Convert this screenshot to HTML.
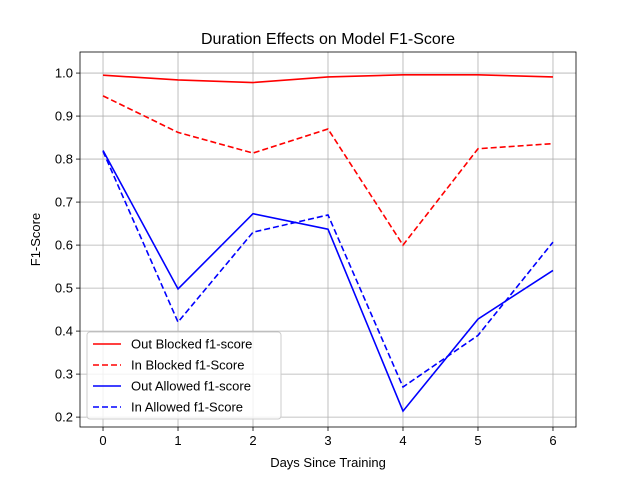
<!DOCTYPE html>
<html><head><meta charset="utf-8"><style>
body{margin:0;background:#fff;}
svg{font-family:"Liberation Sans","DejaVu Sans",sans-serif;}
</style></head><body>
<svg id="chart" width="640" height="480"></svg>
<script>
const days=[0,1,2,3,4,5,6];
const outBlocked=[0.995,0.984,0.978,0.991,0.996,0.996,0.991];
const inBlocked=[0.947,0.862,0.814,0.870,0.600,0.824,0.836];
const outAllowed=[0.820,0.498,0.673,0.637,0.214,0.428,0.541];
const inAllowed=[0.818,0.421,0.630,0.670,0.270,0.390,0.607];
const xTicks=[0,1,2,3,4,5,6];
const yTicks=[0.2,0.3,0.4,0.5,0.6,0.7,0.8,0.9,1.0];
const seriesNames=["Out Blocked f1-score","In Blocked f1-Score","Out Allowed f1-score","In Allowed f1-Score"];

const NS="http://www.w3.org/2000/svg";
const svg=document.getElementById('chart');
const L=80,R=576,T=52,B=427;
const xMin=-0.307,xMax=6.307,yMin=0.177,yMax=1.049;
const sx=v=>L+(v-xMin)/(xMax-xMin)*(R-L);
const sy=v=>B-(v-yMin)/(yMax-yMin)*(B-T);
function mk(tag,attrs,parent){const e=document.createElementNS(NS,tag);for(const k in attrs)e.setAttribute(k,attrs[k]);(parent||svg).appendChild(e);return e;}

const grid=mk('g',{});


xTicks.forEach(t=>{mk('line',{x1:sx(t),x2:sx(t),y1:T,y2:B,stroke:'#b0b0b0','stroke-width':0.8},grid);
 mk('line',{x1:sx(t),x2:sx(t),y1:B,y2:B+4,stroke:'#000','stroke-width':0.8},grid);
 const tx=mk('text',{x:sx(t),y:B+18,'text-anchor':'middle','font-size':13},grid);tx.textContent=t;
 
 });
yTicks.forEach(t=>{mk('line',{x1:L,x2:R,y1:sy(t),y2:sy(t),stroke:'#b0b0b0','stroke-width':0.8},grid);
 mk('line',{x1:L-4,x2:L,y1:sy(t),y2:sy(t),stroke:'#000','stroke-width':0.8},grid);
 const tx=mk('text',{x:L-7,y:sy(t)+4.5,'text-anchor':'end','font-size':13},grid);tx.textContent=t.toFixed(1);
 
 });

const styles=[{c:'#ff0000',d:''},{c:'#ff0000',d:'6,3'},{c:'#0000ff',d:''},{c:'#0000ff',d:'6,3'}];
[outBlocked,inBlocked,outAllowed,inAllowed].forEach((s,i)=>{
 const p=mk('polyline',{points:s.map((v,j)=>sx(days[j])+','+sy(v)).join(' '),fill:'none',stroke:styles[i].c,'stroke-width':1.6,'stroke-dasharray':styles[i].d});
 
 
});
const frame=mk('rect',{x:L,y:T,width:R-L,height:B-T,fill:'none',stroke:'#000','stroke-width':0.8});



const title=mk('text',{x:(L+R)/2,y:T-8,'text-anchor':'middle','font-size':16});title.textContent='Duration Effects on Model F1-Score';


const xl=mk('text',{x:(L+R)/2,y:467,'text-anchor':'middle','font-size':13});xl.textContent='Days Since Training';


const yl=mk('text',{x:0,y:0,'text-anchor':'middle','font-size':13,transform:'translate(40,'+((T+B)/2)+') rotate(-90)'});yl.textContent='F1-Score';



const lg=mk('g',{});


mk('rect',{x:87,y:332,width:194,height:87,rx:3,fill:'#fff','fill-opacity':0.8,stroke:'#ccc'},lg);
seriesNames.forEach((n,i)=>{const y=344+i*21;
 mk('line',{x1:93,x2:121,y1:y,y2:y,stroke:styles[i].c,'stroke-width':1.6,'stroke-dasharray':styles[i].d},lg);
 const t=mk('text',{x:131,y:y+4.5,'font-size':13},lg);t.textContent=n;
 
 });
</script></body></html>
